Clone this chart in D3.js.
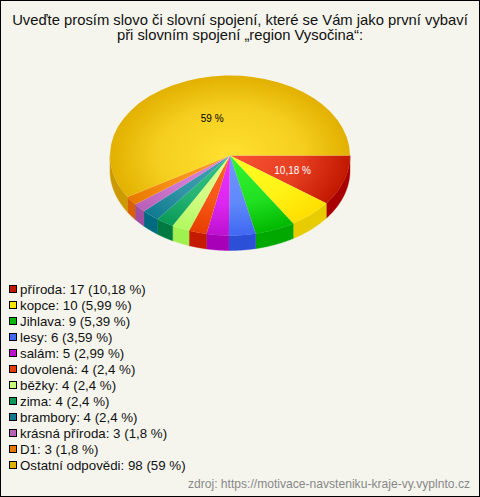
<!DOCTYPE html>
<html><head><meta charset="utf-8">
<script src="https://cdn.jsdelivr.net/npm/d3@7"></script>
<style>html,body{margin:0;padding:0;background:#f5f5ed}svg{display:block}text{font-family:"Liberation Sans",Arial,sans-serif}</style>
</head><body><script>
const titleLines = ["Uveďte prosím slovo či slovní spojení, které se Vám jako první vybaví", "při slovním spojení „region Vysočina“:"];
const categories = ["příroda","kopce","Jihlava","lesy","salám","dovolená","běžky","zima","brambory","krásná příroda","D1","Ostatní odpovědi"];
const values = [17,10,9,6,5,4,4,4,4,3,3,98];
const percents = ["10,18","5,99","5,39","3,59","2,99","2,4","2,4","2,4","2,4","1,8","1,8","59"];
const innerColors = ["#fa5233","#ffff22","#33f533","#7099ff","#ec33ff","#ff6622","#e2ff92","#33c282","#42a2b2","#da84da","#ff9c22","#ffe030"];
const outerColors = ["#c21800","#ffde00","#00b800","#4068f2","#be10d0","#e63c00","#b0f860","#0a9a58","#107a90","#b860b8","#e87800","#e2b000"];
const sideColors  = ["#a80000","#e6cc00","#00a800","#2c4fd8","#a800b8","#c41a00","#a0f050","#007a40","#006a80","#a04ca0","#d86000","#cc9a00"];
const legendColors= ["#c21800","#ffe600","#00b800","#4068f2","#be10d0","#e63c00","#c8ff78","#0a9a58","#107a90","#b860b8","#e87800","#e2b000"];
const labelled = [{i:0,fill:"#fff"},{i:11,fill:"#000"}];
const source = "zdroj: https://motivace-navsteniku-kraje-vy.vyplnto.cz";

const W=480,H=497, cx=230, cy=155.5, rx=120, ry=80, depth=15;
const svg=d3.select("body").append("svg").attr("width",W).attr("height",H);
svg.append("rect").attr("x",.5).attr("y",.5).attr("width",W-1).attr("height",H-1).attr("fill","#f5f5ed").attr("stroke","#000");

svg.selectAll(".title").data(titleLines).join("text").attr("class","title")
  .attr("x",240).attr("y",(d,i)=>24.5+i*15.5).attr("text-anchor","middle").attr("font-size",14.8).attr("fill","#111").text(d=>d);

const arcs=d3.pie().sort(null).startAngle(Math.PI/2).endAngle(Math.PI*2.5)(values);
const defs=svg.append("defs");
values.forEach((v,i)=>{
  const g=defs.append("radialGradient").attr("id","g"+i).attr("gradientUnits","userSpaceOnUse")
    .attr("cx",0).attr("cy",0).attr("r",rx);
  g.append("stop").attr("offset",0).attr("stop-color",innerColors[i]);
  g.append("stop").attr("offset",.6).attr("stop-color",d3.interpolateRgb(innerColors[i],outerColors[i])(.35));
  g.append("stop").attr("offset",1).attr("stop-color",outerColors[i]);
});
const px=a=>cx+rx*Math.sin(a), py=a=>cy-ry*Math.cos(a);
const side=svg.append("g");
arcs.forEach((a,i)=>{
  const lo=Math.max(a.startAngle,Math.PI/2), hi=Math.min(a.endAngle,Math.PI*1.5);
  if(hi<=lo) return;
  const pts=d3.range(0,41).map(k=>lo+(hi-lo)*k/40);
  const line=d3.line().x(p=>p[0]).y(p=>p[1]);
  const top=pts.map(t=>[px(t),py(t)]), bot=pts.slice().reverse().map(t=>[px(t),py(t)+depth]);
  side.append("path").attr("d",line(top.concat(bot))+"Z").attr("fill",sideColors[i]).attr("stroke",sideColors[i]).attr("stroke-width",.4);
});
const arc=d3.arc().innerRadius(0).outerRadius(rx);
const topG=svg.append("g").attr("transform",`translate(${cx},${cy}) scale(1,${ry/rx})`);
topG.selectAll("path").data(arcs).join("path").attr("d",arc).attr("fill",(d,i)=>`url(#g${i})`);
labelled.forEach(l=>{
  const a=arcs[l.i], m=(a.startAngle+a.endAngle)/2;
  svg.append("text").attr("x",cx+.55*rx*Math.sin(m)).attr("y",cy-.51*ry*Math.cos(m)+6)
    .attr("text-anchor","middle").attr("font-size",10).attr("fill",l.fill).text(percents[l.i]+" %");
});
const ly=d3.scalePoint().domain(d3.range(categories.length)).range([289,465]);
const leg=svg.selectAll(".leg").data(categories).join("g").attr("class","leg").attr("transform",(d,i)=>`translate(0,${ly(i)})`);
leg.append("rect").attr("x",9.5).attr("y",-3.5).attr("width",7).attr("height",7).attr("stroke","#000").attr("fill",(d,i)=>legendColors[i]);
leg.append("text").attr("x",20).attr("y",5).attr("font-size",13.3).attr("fill","#111").text((d,i)=>`${d}: ${values[i]} (${percents[i]} %)`);
svg.append("text").attr("x",470).attr("y",488).attr("text-anchor","end").attr("font-size",12.1).attr("fill","#888").text(source);
</script></body></html>
